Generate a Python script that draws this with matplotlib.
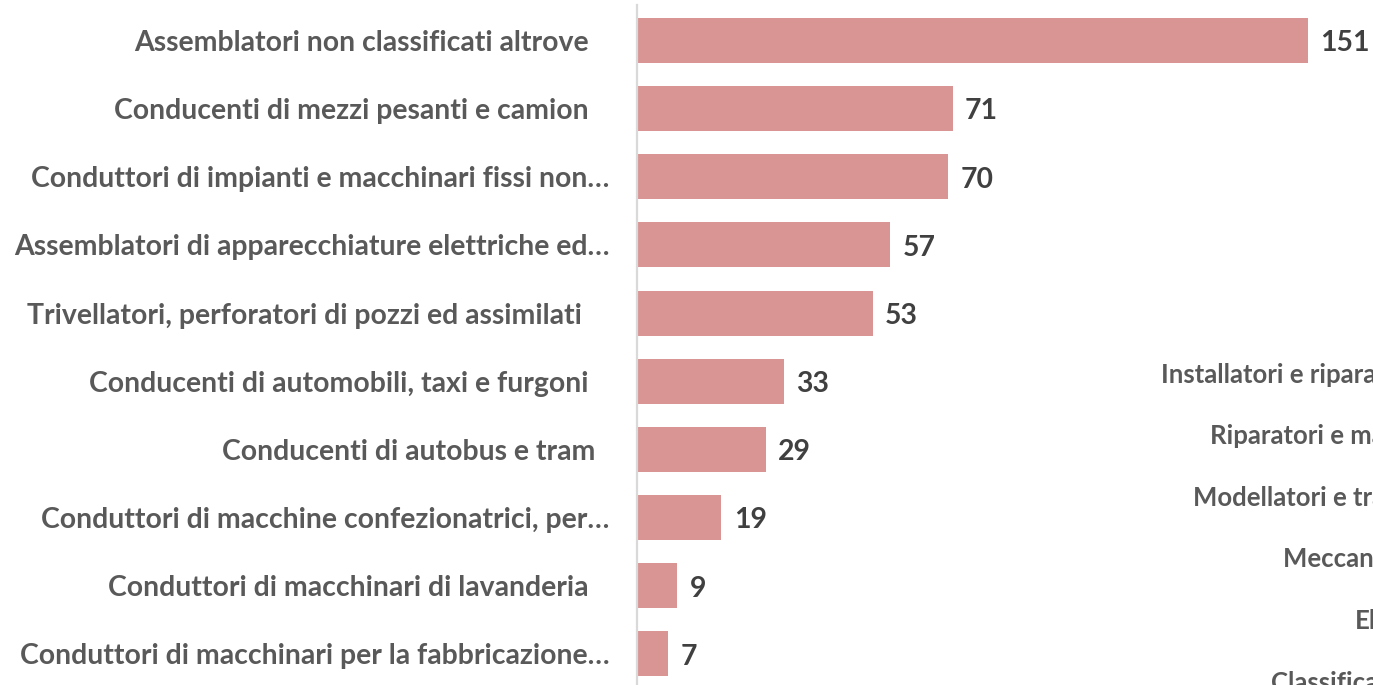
import matplotlib
matplotlib.use("Agg")
import matplotlib.pyplot as plt

categories = [
    "Assemblatori non classificati altrove   ",
    "Conducenti di mezzi pesanti e camion   ",
    "Conduttori di impianti e macchinari fissi non…",
    "Assemblatori di apparecchiature elettriche ed…",
    "Trivellatori, perforatori di pozzi ed assimilati    ",
    "Conducenti di automobili, taxi e furgoni   ",
    "Conducenti di autobus e tram  ",
    "Conduttori di macchine confezionatrici, per…",
    "Conduttori di macchinari di lavanderia   ",
    "Conduttori di macchinari per la fabbricazione…",
]
values = [151, 71, 70, 57, 53, 33, 29, 19, 9, 7]

side_labels = [
    "Installatori e riparatori di apparati elettrici",
    "Riparatori e manutentori di macchinari",
    "Modellatori e tracciatori",
    "Meccanici artigianali",
    "Elettrauto",
    "Classificatori",
]

W, H = 1373, 685
fig = plt.figure(figsize=(W / 100, H / 100), dpi=100)
plt.rcParams['font.family'] = ['Lato', 'DejaVu Sans']

x0 = 637
ax = fig.add_axes([x0 / W, 0, 1 - x0 / W, 1 - 5 / H])
n = len(values)
ypos = list(range(n))
ax.barh(ypos, values, height=0.66, color="#d99594", zorder=2)
ax.set_xlim(0, (W - x0) / (671 / 151))
ax.set_ylim(n - 1 + 0.455, -0.52)

for s in ["top", "right", "bottom"]:
    ax.spines[s].set_visible(False)
ax.spines["left"].set_color("#d9d9d9")
ax.spines["left"].set_linewidth(1.6)
ax.set_xticks([])
ax.set_yticks(ypos)
ax.set_yticklabels(categories, fontsize=20.4, fontweight="bold", color="#595959")
ax.tick_params(axis="y", length=0, pad=20)

for y, v in zip(ypos, values):
    ax.annotate(str(v), (v, y), xytext=(9, -2), textcoords="offset points",
                ha="left", va="center", fontsize=20.4, fontweight="bold",
                color="#404040")

side_x = [1161, 1210, 1193, 1283, 1355, 1271]
side_y = [375, 436, 498, 559, 621, 683]
for t, sx, sy in zip(side_labels, side_x, side_y):
    fig.text(sx / W, 1 - sy / H, t, ha="left", va="center", fontsize=18.5,
             fontweight="bold", color="#595959")

fig.savefig("out.png", dpi=100)
